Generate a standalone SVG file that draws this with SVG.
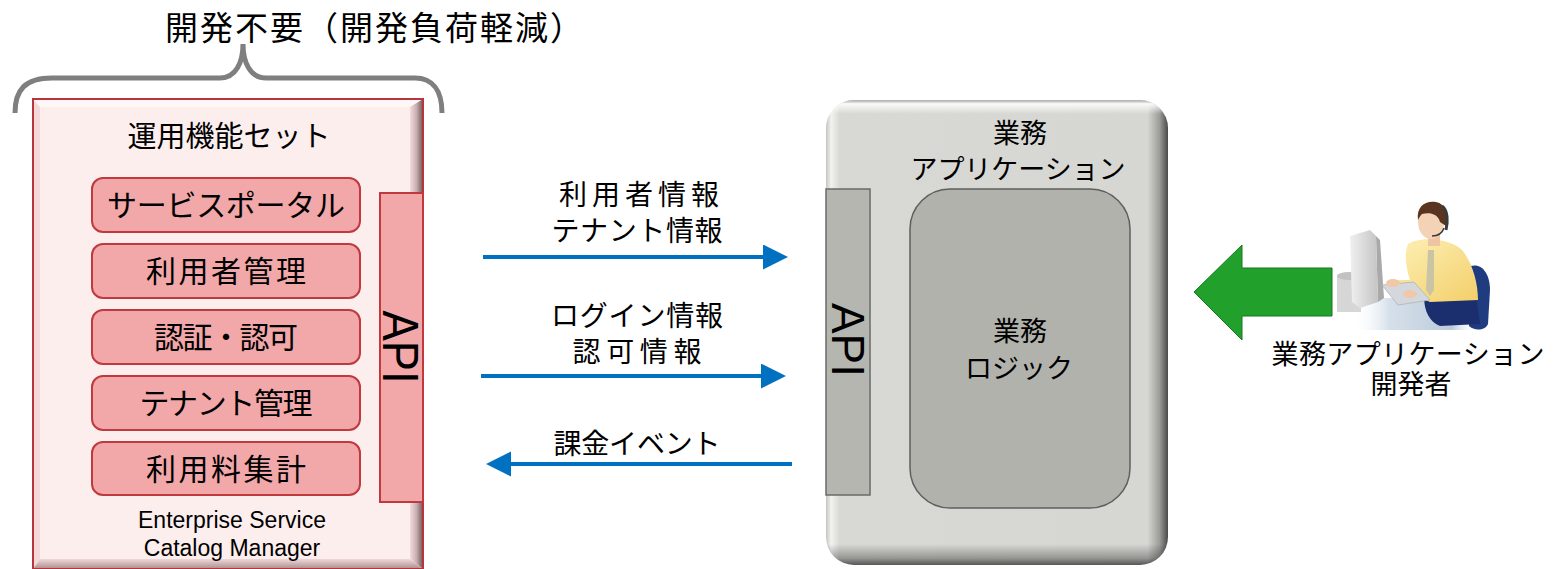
<svg xmlns="http://www.w3.org/2000/svg" width="1562" height="569" viewBox="0 0 1562 569">
  <style>
    .jp { font-family: "Noto Sans CJK JP", "Noto Sans", sans-serif; fill: #000; }
    .lat { font-family: "Liberation Sans", Arial, sans-serif; fill: #000; }
    .mid { text-anchor: middle; }
    .func { fill: #f2a7a9; stroke: #c0393f; stroke-width: 2; }
    .flow { stroke: #0070c0; stroke-width: 4; fill: none; }
  </style>
  <defs>
    <marker id="head" markerUnits="userSpaceOnUse" markerWidth="26" markerHeight="26" refX="3" refY="12.5" orient="auto">
      <path d="M0,0 L25,12.5 L0,25 Z" fill="#0070c0"/>
    </marker>
    <linearGradient id="pinkRight" x1="0" y1="0" x2="1" y2="0">
      <stop offset="0" stop-color="#f3dcdc"/>
      <stop offset="0.5" stop-color="#c9aeb0"/>
      <stop offset="1" stop-color="#6e5658"/>
    </linearGradient>
    <linearGradient id="pinkBottom" x1="0" y1="0" x2="0" y2="1">
      <stop offset="0" stop-color="#f1d8d8"/>
      <stop offset="1" stop-color="#a88c8e"/>
    </linearGradient>
    <linearGradient id="grayH" x1="0" y1="0" x2="1" y2="0">
      <stop offset="0" stop-color="#c4c4c1"/>
      <stop offset="0.015" stop-color="#f2f2f0"/>
      <stop offset="0.04" stop-color="#d8d8d4"/>
      <stop offset="0.94" stop-color="#d6d6d2"/>
      <stop offset="0.975" stop-color="#9c9c99"/>
      <stop offset="1" stop-color="#4a4a4a"/>
    </linearGradient>
    <linearGradient id="grayV" x1="0" y1="0" x2="0" y2="1">
      <stop offset="0" stop-color="#9a9a9a" stop-opacity="0.7"/>
      <stop offset="0.008" stop-color="#ffffff" stop-opacity="0.9"/>
      <stop offset="0.03" stop-color="#ffffff" stop-opacity="0"/>
      <stop offset="0.955" stop-color="#000000" stop-opacity="0"/>
      <stop offset="0.985" stop-color="#000000" stop-opacity="0.3"/>
      <stop offset="1" stop-color="#000000" stop-opacity="0.6"/>
    </linearGradient>
    <linearGradient id="monitor" x1="0" y1="0" x2="1" y2="0">
      <stop offset="0" stop-color="#f0f0f0"/>
      <stop offset="1" stop-color="#c4c4c4"/>
    </linearGradient>
    <linearGradient id="desk" x1="0" y1="0" x2="1" y2="0">
      <stop offset="0" stop-color="#ffffff" stop-opacity="0"/>
      <stop offset="0.3" stop-color="#d6e0ea"/>
      <stop offset="0.8" stop-color="#bccbdb"/>
      <stop offset="1" stop-color="#ffffff" stop-opacity="0"/>
    </linearGradient>
    <linearGradient id="shirt" x1="0" y1="0" x2="1" y2="1">
      <stop offset="0" stop-color="#fdf1b8"/>
      <stop offset="1" stop-color="#f3cf6a"/>
    </linearGradient>
  </defs>

  <!-- heading and brace over the management suite -->
  <g id="heading">
    <text class="jp" x="165" y="40" font-size="33" letter-spacing="2">開発不要（開発負荷軽減）</text>
    <path d="M15,113 C15,90 25,78 52,78 L220,78 C236,78 243,62 243,44 C243,62 250,78 266,78 L415,78 C432,78 442,90 442,113" fill="none" stroke="#7f7f7f" stroke-width="5"/>
  </g>

  <!-- management suite (bevelled panel) -->
  <g id="suite">
    <polygon points="33,99 423,99 410,107 40,107" fill="#fff6f6"/>
    <polygon points="33,99 40,107 40,559 33,569" fill="#f5d9d9"/>
    <polygon points="423,99 423,569 410,559 410,107" fill="url(#pinkRight)"/>
    <polygon points="33,569 423,569 410,559 40,559" fill="url(#pinkBottom)"/>
    <rect x="40" y="107" width="370" height="452" fill="#fdeeee"/>
    <rect x="33" y="99" width="390" height="470" fill="none" stroke="#b8353d" stroke-width="2"/>
    <text class="jp mid" x="229" y="147" font-size="29">運用機能セット</text>
    <text class="lat mid" font-size="23"><tspan x="232" y="528">Enterprise Service</tspan><tspan x="232" y="556">Catalog Manager</tspan></text>
  </g>

  <g id="fn-portal">
    <rect class="func" x="92" y="178" width="268" height="54" rx="11"/>
    <text class="jp mid" x="226" y="216" font-size="30" textLength="238" lengthAdjust="spacing">サービスポータル</text>
  </g>
  <g id="fn-users">
    <rect class="func" x="92" y="244" width="268" height="54" rx="11"/>
    <text class="jp mid" x="226" y="282" font-size="30" textLength="160" lengthAdjust="spacing">利用者管理</text>
  </g>
  <g id="fn-auth">
    <rect class="func" x="92" y="310" width="268" height="54" rx="11"/>
    <text class="jp mid" x="226" y="348" font-size="30" textLength="144" lengthAdjust="spacing">認証・認可</text>
  </g>
  <g id="fn-tenant">
    <rect class="func" x="92" y="376" width="268" height="54" rx="11"/>
    <text class="jp mid" x="226" y="414" font-size="30" textLength="173" lengthAdjust="spacing">テナント管理</text>
  </g>
  <g id="fn-billing">
    <rect class="func" x="92" y="442" width="268" height="53" rx="11"/>
    <text class="jp mid" x="226" y="480" font-size="30" textLength="160" lengthAdjust="spacing">利用料集計</text>
  </g>

  <g id="suite-api">
    <rect class="func" x="380" y="193" width="43" height="309"/>
    <text class="lat mid" transform="translate(383,347) rotate(90)" font-size="50" textLength="73" lengthAdjust="spacingAndGlyphs">API</text>
  </g>

  <!-- business application (rounded bevelled panel) -->
  <g id="app">
    <rect x="826" y="100" width="342" height="465" rx="28" fill="url(#grayH)"/>
    <rect x="826" y="100" width="342" height="465" rx="28" fill="url(#grayV)"/>
    <text class="jp mid" font-size="27"><tspan x="1020" y="143">業務</tspan><tspan x="1018" y="179" textLength="215" lengthAdjust="spacing">アプリケーション</tspan></text>
  </g>

  <g id="app-api">
    <rect x="826" y="189" width="44" height="306" fill="#b6b6b1" stroke="#6a6a6a" stroke-width="1.5"/>
    <text class="lat mid" transform="translate(832,340) rotate(90)" font-size="46" textLength="74" lengthAdjust="spacingAndGlyphs">API</text>
  </g>

  <g id="app-logic">
    <rect x="910" y="189" width="220" height="319" rx="40" fill="#b2b2ad" stroke="#5f5f5f" stroke-width="1.5"/>
    <text class="jp mid" font-size="27"><tspan x="1020" y="341">業務</tspan><tspan x="1019" y="378">ロジック</tspan></text>
  </g>

  <!-- developer -->
  <g id="developer">
    <rect x="1352" y="298" width="125" height="32" fill="url(#desk)"/>
    <!-- chair -->
    <path d="M1466,268 C1480,260 1490,272 1490,290 L1488,324 C1485,331 1474,331 1469,326 Z" fill="#1f3c80"/>
    <!-- base unit -->
    <rect x="1337" y="276" width="24" height="36" fill="#d6d6d6"/>
    <ellipse cx="1349" cy="276" rx="12" ry="4" fill="#c2c2c2"/>
    <!-- monitor -->
    <polygon points="1370,230 1380,240 1384,298 1378,302 1376,236" fill="#a9a9a9"/>
    <polygon points="1350,236 1370,230 1376,236 1378,302 1360,308 1352,302" fill="url(#monitor)"/>
    <!-- legs -->
    <path d="M1424,296 L1476,296 L1480,324 L1440,326 C1430,322 1424,312 1424,296 Z" fill="#1b2f6e"/>
    <!-- shirt and arm -->
    <path d="M1408,244 C1420,236 1450,238 1462,250 C1472,262 1478,282 1478,300 L1430,302 C1420,298 1412,294 1400,292 L1390,288 L1392,280 L1410,280 C1406,268 1404,254 1408,244 Z" fill="url(#shirt)"/>
    <!-- tie -->
    <polygon points="1428,250 1434,250 1434,290 1430,296 1426,290" fill="#c9c4a4"/>
    <!-- keyboard -->
    <polygon points="1382,285 1414,282 1430,300 1398,305" fill="#d4d8dc" stroke="#b0b4b8" stroke-width="0.8"/>
    <!-- hands -->
    <ellipse cx="1393" cy="283" rx="7" ry="4" fill="#f0c8a8"/>
    <ellipse cx="1410" cy="294" rx="7" ry="4" fill="#f0c8a8"/>
    <!-- neck and head -->
    <rect x="1428" y="232" width="12" height="14" fill="#eec4a2"/>
    <ellipse cx="1431" cy="222" rx="13" ry="17" fill="#f3d2b6"/>
    <path d="M1418,220 C1416,206 1426,200 1436,202 C1446,204 1448,214 1446,226 L1440,222 C1438,214 1430,212 1422,214 C1420,216 1419,218 1418,220 Z" fill="#5a3420"/>
    <!-- headset -->
    <path d="M1442,206 C1448,210 1448,222 1446,230" fill="none" stroke="#3a3a3a" stroke-width="3"/>
    <path d="M1444,228 C1442,234 1438,236 1432,236" fill="none" stroke="#3a3a3a" stroke-width="1.5"/>
  </g>

  <g id="dev-arrow">
    <polygon points="1194,292 1242,245 1242,268 1332,268 1332,316 1242,316 1242,340" fill="#21a02c" stroke="#17791f" stroke-width="1"/>
  </g>

  <g id="dev-label">
    <text class="jp mid" font-size="27"><tspan x="1408" y="364" textLength="273" lengthAdjust="spacing">業務アプリケーション</tspan><tspan x="1411" y="394">開発者</tspan></text>
  </g>

  <!-- data flows between the suite and the application -->
  <g id="connectors">
    <line class="flow" x1="483" y1="257" x2="766" y2="257" marker-end="url(#head)"/>
    <line class="flow" x1="481" y1="376" x2="764" y2="376" marker-end="url(#head)"/>
    <line class="flow" x1="792" y1="464" x2="508" y2="464" marker-end="url(#head)"/>
    <text class="jp mid" font-size="28"><tspan x="639" y="205" textLength="160" lengthAdjust="spacing">利用者情報</tspan><tspan x="637" y="241" textLength="171" lengthAdjust="spacing">テナント情報</tspan></text>
    <text class="jp mid" font-size="28"><tspan x="637" y="326" textLength="172" lengthAdjust="spacing">ログイン情報</tspan><tspan x="637" y="362" textLength="129" lengthAdjust="spacing">認可情報</tspan></text>
    <text class="jp mid" x="637" y="454" font-size="28" textLength="167" lengthAdjust="spacing">課金イベント</text>
  </g>
</svg>
